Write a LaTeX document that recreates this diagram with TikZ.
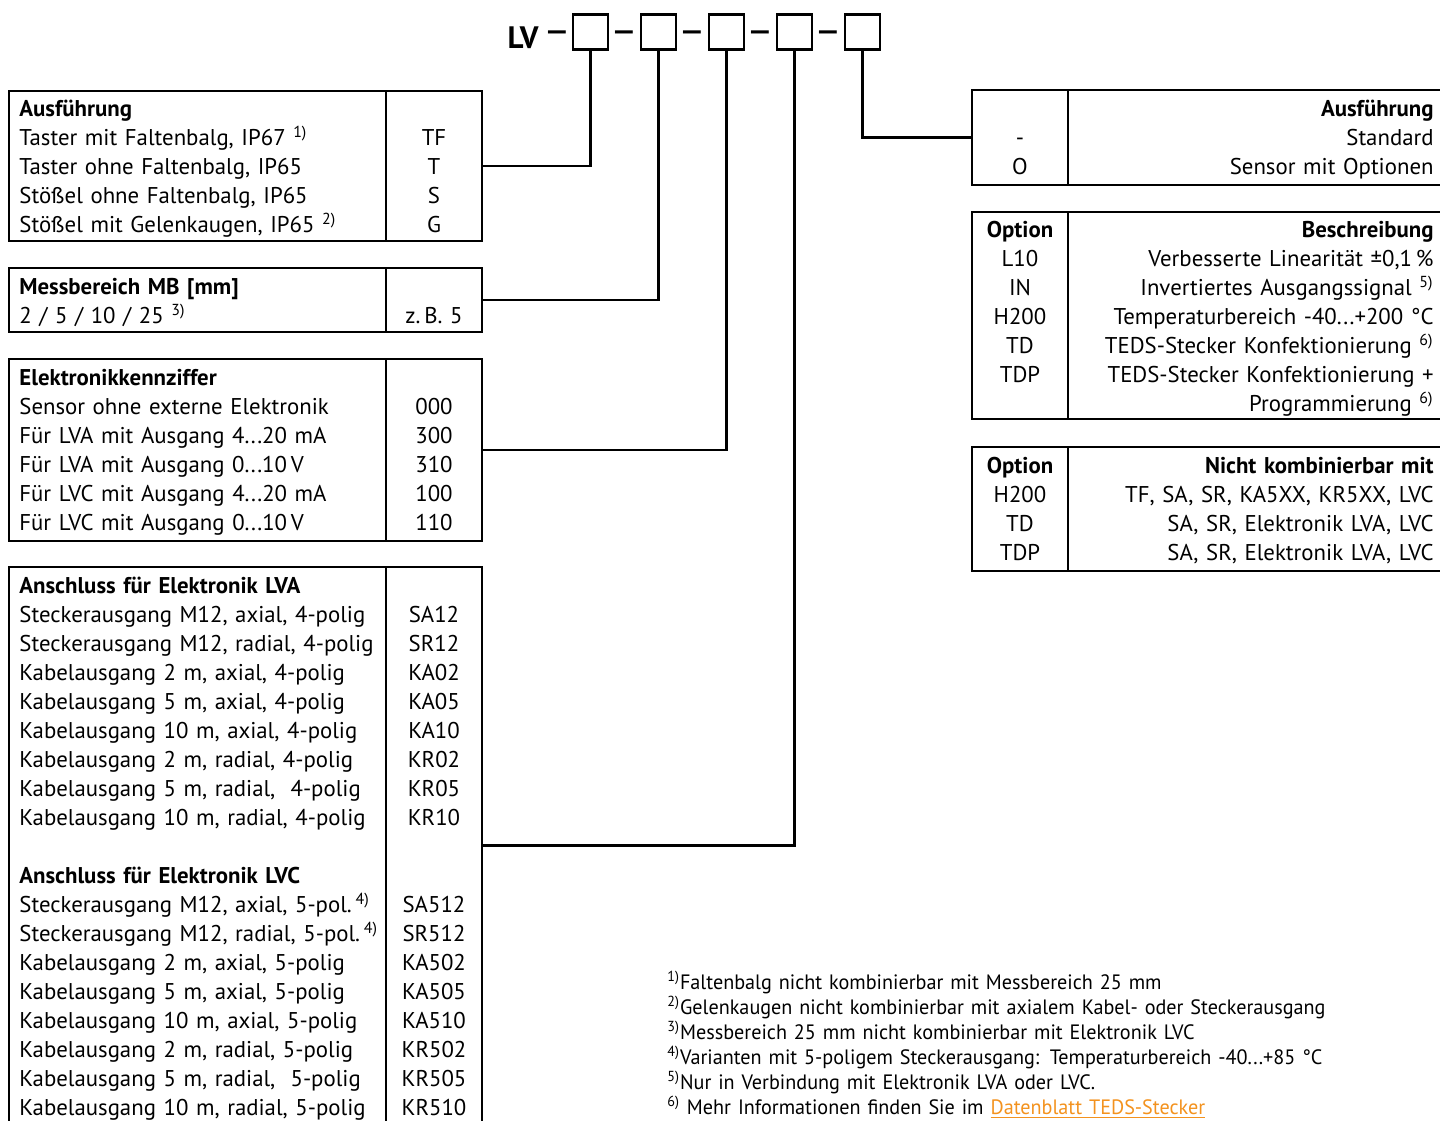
\documentclass[tikz,border=0pt]{standalone}
\usepackage{fontspec}
\setmainfont{PT Sans}[WordSpace=0.8]
\newfontfamily\fnfont[FakeStretch=0.97,WordSpace=0.8]{PT Sans}
\usepackage{tikz}
\usetikzlibrary{fit,positioning}
\definecolor{linkorange}{RGB}{243,146,30}
\newcommand{\sfn}[1]{\textsuperscript{#1)}}
\tikzset{
    %Define style for the code boxes
    codebox/.style={
           rectangle,
           draw=black, line width=1.2pt,
           minimum width=17.5pt,
           minimum height=17.5pt,
           inner sep=0pt},
    %Define style for table frames
    tabframe/.style={
           rectangle,
           draw=black, line width=1.2pt,
           inner sep=0pt},
    %Define styles for the columns
    txtcol/.style={
           inner sep=0pt,
           text width=200pt,
           align=left,
           font=\fontsize{11.4pt}{14.5pt}\selectfont},
    codecol/.style={
           inner sep=0pt,
           text width=48pt,
           align=center,
           font=\fontsize{11.4pt}{14.5pt}\selectfont},
    desccol/.style={
           inner sep=0pt,
           text width=190pt,
           align=right,
           font=\fontsize{11.4pt}{14.5pt}\selectfont},
    dashtxt/.style={
           inner sep=0pt,
           yshift=-2.9pt,
           font=\fontsize{21pt}{21pt}\selectfont},
    % Define line style
    conn/.style={
           line width=1.2pt}
}
\begin{document}
\begin{tikzpicture}[x=0.5pt,y=-0.5pt]
\useasboundingbox (0,0) rectangle (1440,1120);
% type code on top
\node[codebox] (b1) at (590.5,32) {};
\node[codebox, right=15.3pt of b1] (b2) {};
\node[codebox, right=15.3pt of b2] (b3) {};
\node[codebox, right=15.3pt of b3] (b4) {};
\node[codebox, right=15.3pt of b4] (b5) {};
\node[dashtxt, left=0pt of b1] (d0) {–};
\node[left=2.2pt of d0, inner sep=0pt, font=\fontsize{15.5pt}{15.5pt}\selectfont\bfseries] (lv) {LV};
\path (b1) -- node[dashtxt] (d1) {–} (b2);
\path (b2) -- node[dashtxt] (d2) {–} (b3);
\path (b3) -- node[dashtxt] (d3) {–} (b4);
\path (b4) -- node[dashtxt] (d4) {–} (b5);

% left tables
\node[tabframe, fit={(9,91) (482,241)}] (ausf) {};
\draw[conn] (386,91) -- (386,241);
\node[txtcol, anchor=base west] (ausftxt) at (19,116) {\textbf{Ausführung}\\
Taster mit Faltenbalg, IP67 \sfn{1}\\
Taster ohne Faltenbalg, IP65\\
Stößel ohne Faltenbalg, IP65\\
Stößel mit Gelenkaugen, IP65 \sfn{2}};
\node[codecol, anchor=base] (ausfcode) at (434,145) {TF\\ T\\ S\\ G};

\node[tabframe, fit={(9,268) (482,332)}] (mess) {};
\draw[conn] (386,268) -- (386,332);
\node[txtcol, anchor=base west] (messtxt) at (19,294) {\textbf{Messbereich MB [mm]}\\
2 / 5 / 10 / 25 \sfn{3}};
\node[codecol, anchor=base] (messcode) at (434,323) {z.\,B. 5};

\node[tabframe, fit={(9,359) (482,541)}] (elek) {};
\draw[conn] (386,359) -- (386,541);
\node[txtcol, anchor=base west] (elektxt) at (19,385) {\textbf{Elektronikkennziffer}\\
Sensor ohne externe Elektronik\\
Für LVA mit Ausgang 4...20 mA\\
Für LVA mit Ausgang 0...10\,V\\
Für LVC mit Ausgang 4...20 mA\\
Für LVC mit Ausgang 0...10\,V};
\node[codecol, anchor=base] (elekcode) at (434,414) {000\\ 300\\ 310\\ 100\\ 110};

\node[tabframe, fit={(9,567) (482,1124)}] (ansch) {};
\draw[conn] (386,567) -- (386,1124);
\node[txtcol, anchor=base west] (anschtxt) at (19,593) {\textbf{Anschluss für Elektronik LVA}\\
Steckerausgang M12, axial, 4-polig\\
Steckerausgang M12, radial, 4-polig\\
Kabelausgang 2 m, axial, 4-polig\\
Kabelausgang 5 m, axial, 4-polig\\
Kabelausgang 10 m, axial, 4-polig\\
Kabelausgang 2 m, radial, 4-polig\\
Kabelausgang 5 m, radial,\ \ 4-polig\\
Kabelausgang 10 m, radial, 4-polig\\[14.5pt]
\textbf{Anschluss für Elektronik LVC}\\
Steckerausgang M12, axial, 5-pol.\,\sfn{4}\\
Steckerausgang M12, radial, 5-pol.\,\sfn{4}\\
Kabelausgang 2 m, axial, 5-polig\\
Kabelausgang 5 m, axial, 5-polig\\
Kabelausgang 10 m, axial, 5-polig\\
Kabelausgang 2 m, radial, 5-polig\\
Kabelausgang 5 m, radial,\ \ 5-polig\\
Kabelausgang 10 m, radial, 5-polig};
\node[codecol, anchor=base] (anschcode) at (434,622) {SA12\\ SR12\\ KA02\\ KA05\\ KA10\\ KR02\\ KR05\\ KR10\\[29pt]
SA512\\ SR512\\ KA502\\ KA505\\ KA510\\ KR502\\ KR505\\ KR510};

% right tables
\node[tabframe, fit={(972,90) (1446,185)}] (ausfr) {};
\draw[conn] (1068,90) -- (1068,185);
\node[desccol, anchor=base east] (ausfrtxt) at (1434,116) {\textbf{Ausführung}\\
Standard\\
Sensor mit Optionen};
\node[codecol, anchor=base] (ausfrcode) at (1020,145) {-\\ O};

\node[tabframe, fit={(972,212) (1446,419)}] (opt) {};
\draw[conn] (1068,212) -- (1068,419);
\node[desccol, anchor=base east] (opttxt) at (1434,237) {\textbf{Beschreibung}\\
Verbesserte Linearität ±0,1\,\%\\
Invertiertes Ausgangssignal \sfn{5}\\
Temperaturbereich -40...+200 °C\\
TEDS-Stecker Konfektionierung \sfn{6}\\
TEDS-Stecker Konfektionierung +\\
Programmierung \sfn{6}};
\node[codecol, anchor=base] (optcode) at (1020,237) {\textbf{Option}\\ L10\\ IN\\ H200\\ TD\\ TDP};

\node[tabframe, fit={(972,447) (1446,571)}] (komb) {};
\draw[conn] (1068,447) -- (1068,571);
\node[desccol, anchor=base east] (kombtxt) at (1434,473) {\textbf{Nicht kombinierbar mit}\\
TF, SA, SR, KA5XX, KR5XX, LVC\\
SA, SR, Elektronik LVA, LVC\\
SA, SR, Elektronik LVA, LVC};
\node[codecol, anchor=base] (kombcode) at (1020,473) {\textbf{Option}\\ H200\\ TD\\ TDP};

% connectors
\draw[conn] (b1.south) |- (ausf.east);
\draw[conn] (b2.south) |- (mess.east);
\draw[conn] (b3.south) |- (elek.east);
\draw[conn] (b4.south) |- (ansch.east);
\draw[conn] (b5.south) |- (ausfr.west);

% footnotes
\node[anchor=base west, inner sep=0pt, text width=360pt, align=left,
  font=\fnfont\fontsize{10.4pt}{12.5pt}\selectfont] (fn) at (667,989) {\sfn{1}Faltenbalg nicht kombinierbar mit Messbereich 25 mm\\
\sfn{2}Gelenkaugen nicht kombinierbar mit axialem Kabel- oder Steckerausgang\\
\sfn{3}Messbereich 25 mm nicht kombinierbar mit Elektronik LVC\\
\sfn{4}Varianten mit 5-poligem Steckerausgang: Temperaturbereich -40...+85 °C\\
\sfn{5}Nur in Verbindung mit Elektronik LVA oder LVC.\\
\sfn{6} Mehr Informationen finden Sie im \textcolor{linkorange}{\underline{Datenblatt TEDS-Stecker}}};
\end{tikzpicture}
\end{document}
